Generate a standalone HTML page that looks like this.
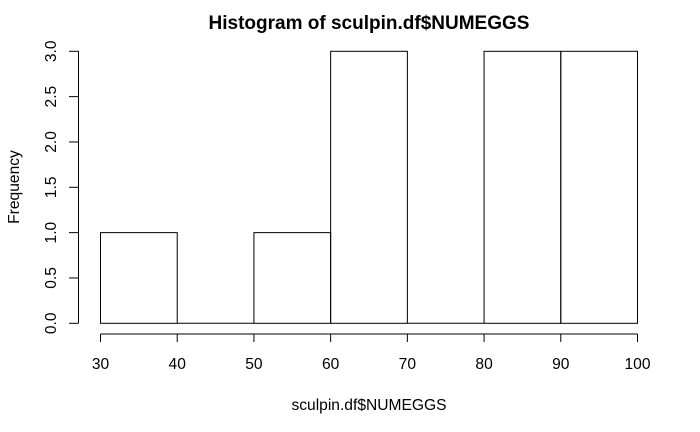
<!DOCTYPE html>
<html><head><meta charset="utf-8"><style>body{margin:0;background:#fff}svg{display:block;font-family:"Liberation Sans",Arial,sans-serif}</style></head>
<body>
<svg id="chart" width="700" height="432" viewBox="0 0 700 432">
<text x="369" y="29" text-anchor="middle" font-size="19" font-weight="bold">Histogram of sculpin.df$NUMEGGS</text>
<text x="369" y="410" text-anchor="middle" font-size="15.6">sculpin.df$NUMEGGS</text>
<text transform="translate(19,187) rotate(-90)" text-anchor="middle" font-size="15.6">Frequency</text>
<g id="bars"></g><g id="xaxis"></g><g id="yaxis"></g>
</svg>
<script>
const binEdges = [30,40,50,60,70,80,90,100];
const counts = [1,0,1,3,0,3,3];
const xTicks = [30,40,50,60,70,80,90,100];
const yTicks = [0,0.5,1,1.5,2,2.5,3];
const yTickLabels = ["0.0","0.5","1.0","1.5","2.0","2.5","3.0"];
const NS="http://www.w3.org/2000/svg";
const xs=v=>100.5+(v-30)*(637.5-100.5)/70;
const ys=v=>323.3-v*(323.3-51.3)/3;
function mk(t,a,p){const e=document.createElementNS(NS,t);for(const k in a)e.setAttribute(k,a[k]);p.appendChild(e);return e;}
const bars=document.getElementById('bars');
counts.forEach((c,i)=>{if(c<=0)return;
const r=mk('rect',{x:xs(binEdges[i]),y:ys(c),width:xs(binEdges[i+1])-xs(binEdges[i]),height:ys(0)-ys(c),fill:'none',stroke:'#000','stroke-width':1},bars);

});
counts.forEach((c,i)=>{if(c!==0)return;
const l=mk('line',{x1:xs(binEdges[i]),x2:xs(binEdges[i+1]),y1:ys(0),y2:ys(0),stroke:'#000'},bars);

});
const xa=document.getElementById('xaxis');
const xl=mk('line',{x1:xs(xTicks[0]),x2:xs(xTicks[xTicks.length-1]),y1:334,y2:334,stroke:'#000'},xa);


xTicks.forEach(v=>{const t=mk('line',{x1:xs(v),x2:xs(v),y1:334,y2:342,stroke:'#000'},xa);


const tx=mk('text',{x:xs(v),y:369,'text-anchor':'middle','font-size':15.6},xa);tx.textContent=v;

});
const ya=document.getElementById('yaxis');
const yl=mk('line',{x1:78.5,x2:78.5,y1:ys(yTicks[0]),y2:ys(yTicks[yTicks.length-1]),stroke:'#000'},ya);


yTicks.forEach((v,i)=>{const t=mk('line',{x1:69,x2:78.5,y1:ys(v),y2:ys(v),stroke:'#000'},ya);


const tx=mk('text',{transform:`translate(56,${ys(v)}) rotate(-90)`,'text-anchor':'middle','font-size':15.6},ya);tx.textContent=yTickLabels[i];

});
</script>
</body></html>
